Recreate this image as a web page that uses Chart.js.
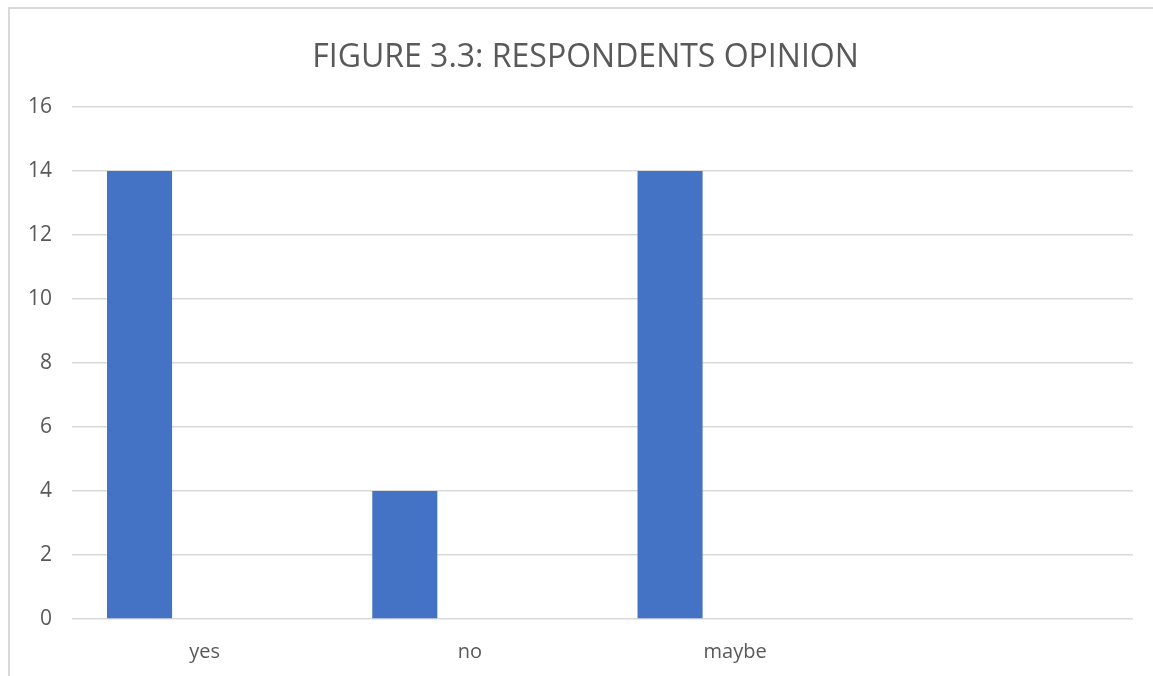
<!DOCTYPE html>
<html>
<head>
<meta charset="utf-8">
<script src="https://cdn.jsdelivr.net/npm/chart.js@4/dist/chart.umd.min.js"></script>
<style>
  html, body { margin: 0; padding: 0; background: #fff; overflow: hidden; }
  #wrap { position: relative; width: 1153px; height: 676px; }
  #frame { position: absolute; left: 8px; top: 7px; width: 1200px; height: 700px;
           border-left: 2px solid #d9d9d9; border-top: 2px solid #d9d9d9; }
  #chart { position: absolute; left: 0; top: 0; }
</style>
</head>
<body>
<div id="wrap">
  <div id="frame"></div>
  <canvas id="chart" width="1153" height="676"></canvas>
</div>
<script>
// answers per category, the chart keeps two empty series beside it
var categories = ['yes', 'no', 'maybe', '']
var respondents = [14, 4, 14, null]
var series2 = [null, null, null, null]
var series3 = [null, null, null, null]
var yTicks = [0, 2, 4, 6, 8, 10, 12, 14, 16]

var grey = '#595959'
var gridGrey = '#d9d9d9'

ctx = document.getElementById('chart').getContext('2d')
var chart = new Chart(ctx, {
    type: 'bar',
    data: {
        labels: categories,
        datasets: [
            { label: 'Series1', data: respondents, backgroundColor: '#4472c4' },
            { label: 'Series2', data: series2, backgroundColor: '#ed7d31' },
            { label: 'Series3', data: series3, backgroundColor: '#a5a5a5' }
        ]
    },
    options: {
        responsive: false,
        animation: false,
        categoryPercentage: 0.736,
        barPercentage: 1,
        // left padding keeps the title centred on the frame
        layout: { padding: { left: 38, right: 20, top: 0, bottom: 0 } },
        plugins: {
            legend: { display: false },
            tooltip: { enabled: false },
            title: {
                display: true,
                text: 'FIGURE 3.3: RESPONDENTS OPINION',
                color: grey,
                font: { family: 'Open Sans', size: 32, weight: 'normal' },
                padding: { top: 39, bottom: 29.6 }
            }
        },
        scales: {
            x: {
                grid: { display: false },
                border: { display: false },
                ticks: { color: grey, font: { family: 'Open Sans', size: 20 }, padding: 13 },
                afterFit: function(s) { s.height = 57 }
            },
            y: {
                min: yTicks[0],
                max: yTicks[yTicks.length - 1],
                afterBuildTicks: function(s) { s.ticks = yTicks.map(v => ({ value: v })) },
                grid: { color: gridGrey, lineWidth: 1.5, drawTicks: false },
                border: { display: false },
                // mirrored labels are not clipped to the narrow axis box;
                // 'far' + negative padding puts them right-aligned left of the grid
                ticks: { color: grey, font: { family: 'Open Sans', size: 21 },
                         mirror: true, crossAlign: 'far', padding: -44 },
                afterFit: function(s) { s.width = 34 }
            }
        }
    }
})
</script>
</body>
</html>
